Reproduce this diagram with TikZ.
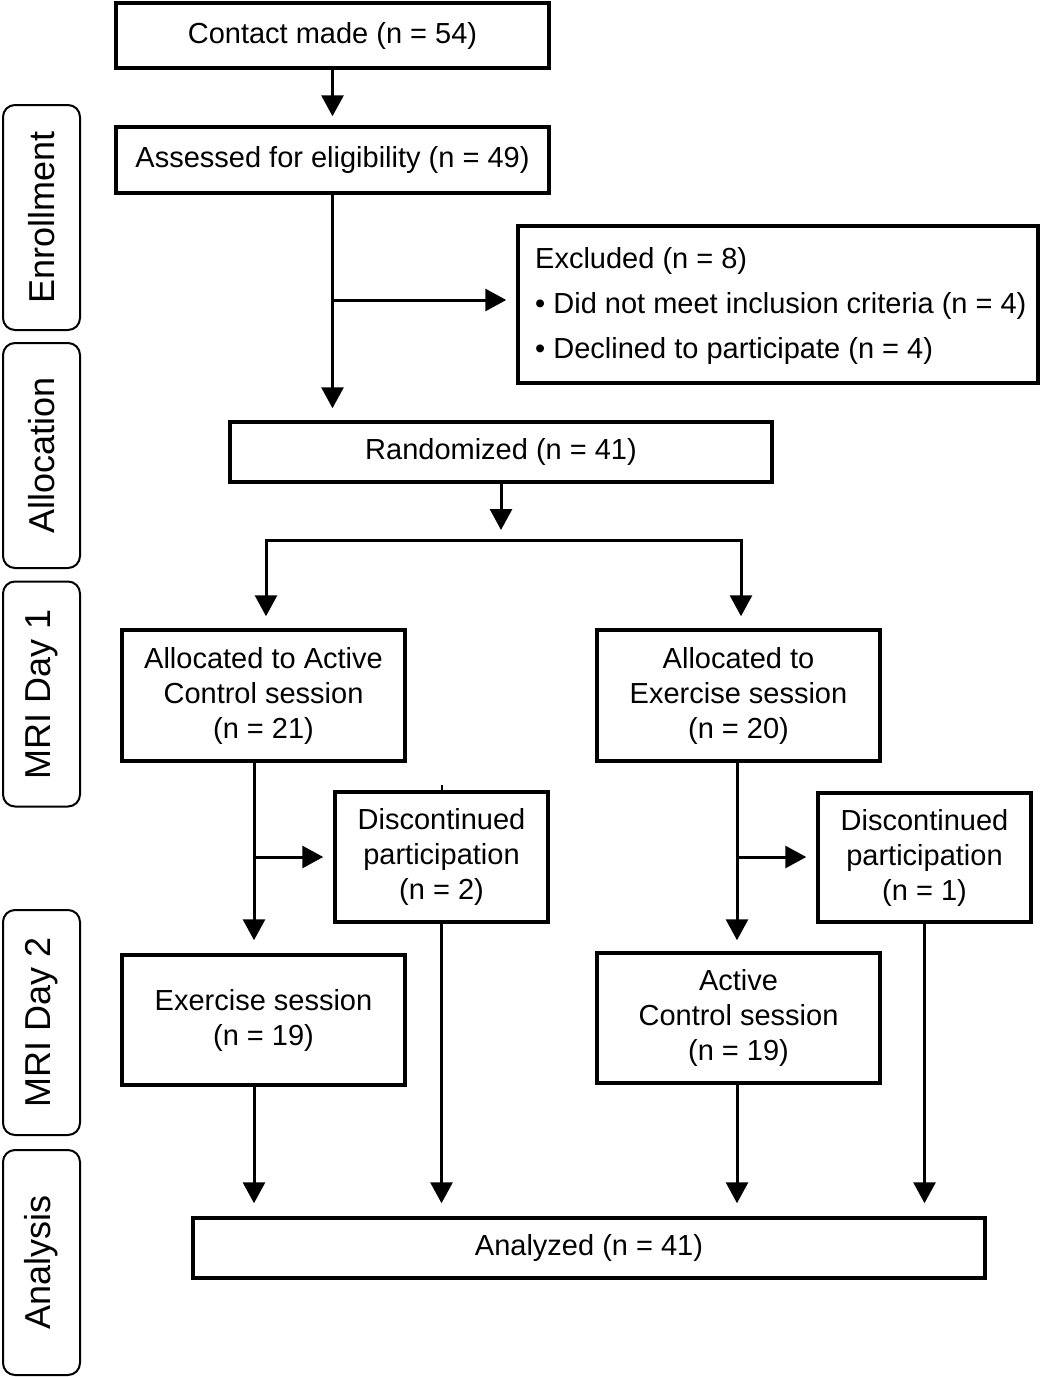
\documentclass[tikz,border=0pt]{standalone}
\usepackage{fontspec}
\setmainfont{Liberation Sans}
\usetikzlibrary{arrows.meta}
\begin{document}
\begin{tikzpicture}[x=1pt,y=-1pt,
  box/.style={draw, line width=3.5pt, inner sep=0pt, align=center,
    font=\fontsize{29}{35}\selectfont},
  phase/.style={draw, line width=2pt, rounded corners=12pt, rotate=90,
    minimum width=225pt, minimum height=77pt, inner sep=0pt,
    font=\fontsize{36}{40}\selectfont},
  tip/.tip={Triangle[width=22pt,length=21pt]},
  flow/.style={line width=3pt, -tip},
  plain/.style={line width=3pt}]
\useasboundingbox (0,0) rectangle (1041,1377);

% phase labels on the left
\node[phase] (penroll) at (41.5,217.5) {Enrollment};
\node[phase] (palloc)  at (41.5,455.5) {Allocation};
\node[phase] (pday1)   at (41.5,694)   {MRI Day 1};
\node[phase] (pday2)   at (41.5,1022.5){MRI Day 2};
\node[phase] (panal)   at (41.5,1262.5){Analysis};

% flow boxes
\node[box, minimum width=433pt, minimum height=65pt] (contact) at (332.5,35.5) {Contact made (n = 54)};
\node[box, minimum width=433pt, minimum height=66pt] (assess) at (332.5,160) {Assessed for eligibility (n = 49)};
\node[box, minimum width=520pt, minimum height=157pt] (excl) at (778,304.5) {};
\node[anchor=west, align=left, inner sep=0pt, font=\fontsize{29}{45}\selectfont] (excltext) at (535,306)
  {Excluded (n = 8)\\ • Did not meet inclusion criteria (n = 4)\\ • Declined to participate (n = 4)};
\node[box, minimum width=542pt, minimum height=60pt] (random) at (501,452) {Randomized (n = 41)};
\node[box, minimum width=283pt, minimum height=131pt] (allocA) at (263.5,695.5)
  {Allocated to Active\\ Control session\\ (n = 21)};
\node[box, minimum width=283pt, minimum height=131pt] (allocE) at (738.5,695.5)
  {Allocated to\\ Exercise session\\ (n = 20)};
\node[box, minimum width=213pt, minimum height=130pt] (disc1) at (441.5,857)
  {Discontinued\\ participation\\ (n = 2)};
\node[box, minimum width=213pt, minimum height=129pt] (disc2) at (924.5,857.5)
  {Discontinued\\ participation\\ (n = 1)};
\node[box, minimum width=283pt, minimum height=130pt] (exerS) at (263.5,1020)
  {Exercise session\\ (n = 19)};
\node[box, minimum width=283pt, minimum height=130pt] (actS) at (738.5,1018)
  {Active\\ Control session\\ (n = 19)};
\node[box, minimum width=792pt, minimum height=60pt] (analyzed) at (589,1248) {Analyzed (n = 41)};

% enrollment connectors
\draw[flow, shorten >=9pt] (contact.south) -- (assess.north);
\draw[flow, shorten >=12pt] (assess.south) -- (assess.south |- random.north);
\coordinate (bex) at (332.5,300);
\draw[flow, shorten >=10pt] (bex) -- (bex -| excl.west);

% randomisation split
\coordinate (split) at (501,540);
\draw[flow, shorten >=10pt] (random.south) -- (split);
\coordinate (sl) at (266,540);
\coordinate (sr) at (741,540);
\draw[line width=3pt, tip-tip, shorten <=12pt, shorten >=12pt]
  (sl |- allocA.north) -- (sl) -- (sr) -- (sr |- allocE.north);

% left arm
\coordinate (la) at (254,857);
\draw[flow, shorten >=13pt] (la |- allocA.south) -- (la |- exerS.north);
\draw[flow, shorten >=10pt] (la) -- (la -| disc1.west);
\draw[line width=2pt] (disc1.north) -- ++(0,-5);

% right arm
\coordinate (ra) at (737,857);
\draw[flow, shorten >=11pt] (ra |- allocE.south) -- (ra |- actS.north);
\draw[flow, shorten >=10pt] (ra) -- (ra -| disc2.west);

% into analysis
\draw[flow, shorten >=13pt] (la |- exerS.south) -- (la |- analyzed.north);
\draw[flow, shorten >=13pt] (disc1.south) -- (disc1.south |- analyzed.north);
\draw[flow, shorten >=13pt] (ra |- actS.south) -- (ra |- analyzed.north);
\draw[flow, shorten >=13pt] (disc2.south) -- (disc2.south |- analyzed.north);
\end{tikzpicture}
\end{document}
